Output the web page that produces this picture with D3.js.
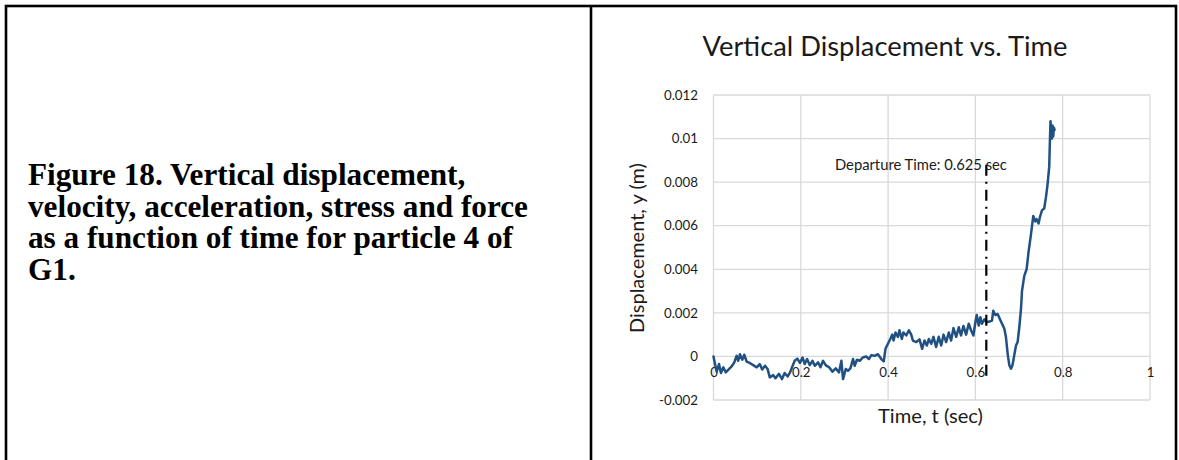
<!DOCTYPE html>
<html>
<head>
<meta charset="utf-8">
<script src="https://cdn.jsdelivr.net/npm/d3@7"></script>
<style>
  html, body { margin: 0; padding: 0; background: #fff; }
  svg { display: block; }
</style>
</head>
<body>
<svg id="fig" width="1179" height="460"></svg>
<script>
// Time samples (s) for particle 4 of G1
const timeSec = [
  0, 0.004, 0.0073, 0.0126, 0.017, 0.0225, 0.028, 0.0354, 0.0415, 0.0476,
  0.053, 0.0567, 0.0606, 0.066, 0.0705, 0.076, 0.083, 0.091, 0.099, 0.106,
  0.1115, 0.118, 0.124, 0.129, 0.137, 0.142, 0.150, 0.157, 0.163, 0.170,
  0.1755, 0.180, 0.186, 0.192, 0.198, 0.204, 0.209, 0.2144, 0.2206, 0.2267,
  0.232, 0.2396, 0.245, 0.251, 0.257, 0.265, 0.2725, 0.280, 0.2876, 0.293,
  0.2967, 0.303, 0.308, 0.3136, 0.3196, 0.3234, 0.3287, 0.335, 0.342, 0.350,
  0.356, 0.3616, 0.369, 0.3767, 0.3844, 0.390, 0.394, 0.3996, 0.405, 0.4096,
  0.4126, 0.417, 0.4224, 0.426, 0.4315, 0.435, 0.4416, 0.4476, 0.453, 0.4567,
  0.4644, 0.472, 0.478, 0.4834, 0.4887, 0.4933, 0.4987, 0.504, 0.510, 0.516,
  0.5216, 0.527, 0.533, 0.539, 0.5444, 0.5497, 0.556, 0.562, 0.567, 0.5726,
  0.5787, 0.5847, 0.590, 0.5954, 0.600, 0.603, 0.6076, 0.6114, 0.615, 0.6206,
  0.626, 0.632, 0.638, 0.641, 0.6457, 0.651, 0.6565, 0.661, 0.6663, 0.670,
  0.6739, 0.6777, 0.6815, 0.685, 0.689, 0.693, 0.6967, 0.7006, 0.7045,
  0.7067, 0.712, 0.7173, 0.7218, 0.7273, 0.7326, 0.7371, 0.7401, 0.7447, 0.7479,
  0.7525, 0.7577, 0.7616, 0.7653, 0.7691, 0.7707, 0.7721, 0.7737, 0.7753, 0.7767,
  0.7783, 0.7799, 0.7813
];

// Vertical displacement (m)
const displacementM = [
  0, -0.0004, -0.0007, -0.00035, -0.00076, -0.0005, -0.00073, -0.00058, -0.00046, -0.00027,
  0.00003, -0.0002, 0.0001, -0.00015, 0.00008, -0.00024, -0.0003, -0.0004, -0.0005, -0.00035,
  -0.0006, -0.00043, -0.00058, -0.00096, -0.00086, -0.001, -0.0008, -0.00104, -0.00076, -0.00092,
  -0.00073, -0.0005, -0.0002, -0.0001, -0.0003, -0.00005, -0.00035, -0.00012, -0.0004, -0.0002,
  -0.00043, -0.00027, -0.0005, -0.0002, -0.0004, -0.0005, -0.0007, -0.00055, -0.00073, -0.0002,
  -0.00104, -0.00058, -0.00066, -0.00055, -0.00012, -0.00043, -0.00015, -0.0002, -0.00005, 0,
  -0.00012, 0.00006, 0.00003, 0.0001, -0.00012, -0.00023, 0.00035, 0.00058, 0.0008, 0.001,
  0.00073, 0.0011, 0.00089, 0.0012, 0.0008, 0.0011, 0.00096, 0.0012, 0.001, 0.00073,
  0.00066, 0.00078, 0.00035, 0.00073, 0.0005, 0.0008, 0.00058, 0.0009, 0.00043, 0.0009,
  0.0005, 0.001, 0.00066, 0.0011, 0.00073, 0.0013, 0.0009, 0.00134, 0.00096, 0.0014,
  0.001, 0.0015, 0.0012, 0.00096, 0.00157, 0.0019, 0.00142, 0.0018, 0.0015, 0.0017,
  0.00157, 0.0016, 0.00165, 0.0021, 0.0019, 0.00195, 0.0017, 0.0015, 0.00127, 0.00089,
  0.00012, -0.0004, -0.00056, -0.0004, 0.00005, 0.0005, 0.00066, 0.00134, 0.0022,
  0.003, 0.0037, 0.004, 0.0048, 0.0056, 0.00645, 0.0062, 0.0063, 0.0061, 0.0064,
  0.0067, 0.0068, 0.0073, 0.0079, 0.0087, 0.0099, 0.0108, 0.0102, 0.0100, 0.0106,
  0.0101, 0.0105, 0.0104
];

// Axis ticks and labels
const xTicks = [0, 0.2, 0.4, 0.6, 0.8, 1];
const xTickLabels = ["0", "0.2", "0.4", "0.6", "0.8", "1"];
const yTicks = [-0.002, 0, 0.002, 0.004, 0.006, 0.008, 0.01, 0.012];
const yTickLabels = ["-0.002", "0", "0.002", "0.004", "0.006", "0.008", "0.01", "0.012"];

// Departure marker
const departureTime = 0.625;
const departureSpan = [-0.0011, 0.0088];
const departureLabel = "Departure Time: 0.625 sec";

const captionLines = [
  "Figure 18. Vertical displacement,",
  "velocity, acceleration, stress and force",
  "as a function of time for particle 4 of",
  "G1."
];

const svg = d3.select("#fig");
const chartFont = "Lato, 'Open Sans', sans-serif";

// scale a text element's font so that it spans the given width
function fitWidth(sel, w) {
  const cur = sel.node().getComputedTextLength();
  const fs = parseFloat(sel.attr("font-size"));
  sel.attr("font-size", (fs * w / cur).toFixed(2));
  return sel;
}

// table frame
svg.append("rect")
  .attr("x", 6).attr("y", 6).attr("width", 1170).attr("height", 480)
  .attr("fill", "none").attr("stroke", "#000").attr("stroke-width", 2.6);
svg.append("line")
  .attr("x1", 591).attr("x2", 591).attr("y1", 6).attr("y2", 460)
  .attr("stroke", "#000").attr("stroke-width", 2.6);

// caption cell: the widest line sets the type size
const cap = svg.append("g").attr("font-family", "'Liberation Serif', 'Times New Roman', serif")
  .attr("font-weight", "bold").attr("fill", "#000");
const capBase = [185, 216.5, 248, 279.5];
const probe = cap.append("text").attr("x", 28).attr("y", capBase[1])
  .attr("font-size", 24).text(captionLines[1]);
fitWidth(probe, 500);
const capSize = probe.attr("font-size");
probe.remove();
cap.selectAll("text.line").data(captionLines).join("text")
  .attr("class", "line")
  .attr("x", 28).attr("y", (d, i) => capBase[i])
  .attr("font-size", capSize)
  .text(d => d);

// chart cell
const x = d3.scaleLinear().domain([0, 1]).range([713.5, 1150]);
const y = d3.scaleLinear().domain([-0.002, 0.012]).range([400, 95]);

const grid = svg.append("g").attr("stroke", "#d9d9d9").attr("stroke-width", 1.3);
grid.selectAll("line.h").data(yTicks).join("line").attr("class", "h")
  .attr("x1", x(0)).attr("x2", x(1))
  .attr("y1", d => y(d)).attr("y2", d => y(d));
grid.selectAll("line.v").data(xTicks).join("line").attr("class", "v")
  .attr("x1", d => x(d)).attr("x2", d => x(d))
  .attr("y1", y(0.012)).attr("y2", y(-0.002));

// y axis labels
const yAxis = d3.axisLeft(y).tickValues(yTicks)
  .tickFormat((d, i) => yTickLabels[i]).tickSize(0).tickPadding(15.5);
const yg = svg.append("g").attr("transform", `translate(${x(0)},0)`).call(yAxis);
yg.select(".domain").remove();
yg.selectAll("text").attr("font-family", chartFont).attr("font-size", 13.3).attr("fill", "#1a1a1a");

// x axis labels, sitting on the zero line
const xAxis = d3.axisBottom(x).tickValues(xTicks)
  .tickFormat((d, i) => xTickLabels[i]).tickSize(0).tickPadding(11);
const xg = svg.append("g").attr("transform", `translate(0,${y(0)})`).call(xAxis);
xg.select(".domain").remove();
xg.selectAll("text").attr("font-family", chartFont).attr("font-size", 13.3).attr("fill", "#1a1a1a");

// displacement trace
const pts = timeSec.map((t, i) => [t, displacementM[i]]);
svg.append("path")
  .datum(pts)
  .attr("fill", "none")
  .attr("stroke", "#215083")
  .attr("stroke-width", 2.5)
  .attr("stroke-linejoin", "round")
  .attr("stroke-linecap", "round")
  .attr("d", d3.line().x(d => x(d[0])).y(d => y(d[1])));

// departure marker
svg.append("line")
  .attr("x1", x(departureTime)).attr("x2", x(departureTime))
  .attr("y1", y(departureSpan[1])).attr("y2", y(departureSpan[0]))
  .attr("stroke", "#000").attr("stroke-width", 2.2)
  .attr("stroke-dasharray", "11,6,2,6");
const dep = svg.append("text")
  .attr("x", 835).attr("y", 170)
  .attr("font-family", chartFont).attr("font-size", 12).attr("fill", "#1a1a1a")
  .text(departureLabel);
fitWidth(dep, 172);

// titles
const title = svg.append("text")
  .attr("x", 885).attr("y", 56).attr("text-anchor", "middle")
  .attr("font-family", chartFont).attr("font-size", 22).attr("fill", "#1a1a1a")
  .text("Vertical Displacement vs. Time");
fitWidth(title, 365);

const xt = svg.append("text")
  .attr("x", 930.5).attr("y", 423).attr("text-anchor", "middle")
  .attr("font-family", chartFont).attr("font-size", 16).attr("fill", "#1a1a1a")
  .text("Time, t (sec)");
fitWidth(xt, 105);

const yt = svg.append("text")
  .attr("transform", "translate(644,248) rotate(-90)").attr("text-anchor", "middle")
  .attr("font-family", chartFont).attr("font-size", 16).attr("fill", "#1a1a1a")
  .text("Displacement, y (m)");
fitWidth(yt, 170);
</script>
</body>
</html>
